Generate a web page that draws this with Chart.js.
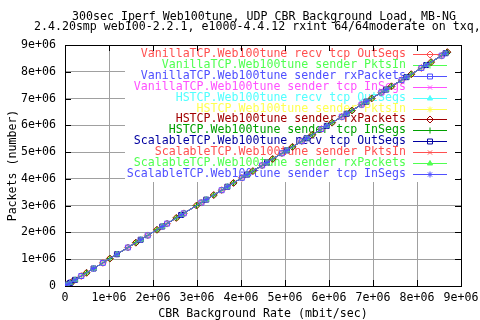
<!DOCTYPE html>
<html>
<head>
<meta charset="utf-8">
<script src="https://cdn.jsdelivr.net/npm/chart.js@4/dist/chart.umd.min.js"></script>
<style>
  html, body { margin: 0; padding: 0; background: #fff; }
  #wrap { width: 480px; height: 320px; }
</style>
</head>
<body>
<div id="wrap"><canvas id="chart" width="480" height="320"></canvas></div>
<script>
const titleLines = [
  '300sec Iperf Web100tune, UDP CBR Background Load, MB-NG',
  '2.4.20smp web100-2.2.1, e1000-4.4.12 rxint 64/64moderate on txq,',
];
const xTitle = 'CBR Background Rate (mbit/sec)';
const yTitle = 'Packets (number)';
const xTickLabels = ['0', '1e+06', '2e+06', '3e+06', '4e+06', '5e+06', '6e+06', '7e+06', '8e+06', '9e+06'];
const yTickLabels = ['0', '1e+06', '2e+06', '3e+06', '4e+06', '5e+06', '6e+06', '7e+06', '8e+06', '9e+06'];

// background rate / packet counts per TCP stack
const vanillaRate = [15000, 40000, 60000, 130000, 370000, 860000, 1430000, 1880000, 2320000, 2700000, 3100000, 3560000, 4020000, 4480000, 4930000, 5380000, 5830000, 6290000, 6740000, 7190000, 7650000, 8100000, 8560000];
const vanillaPkts = [15000, 41000, 61000, 131000, 372000, 864000, 1437000, 1889000, 2331000, 2713000, 3115000, 3577000, 4040000, 4502000, 4955000, 5407000, 5859000, 6321000, 6774000, 7226000, 7688000, 8140000, 8602000];
const hstcpRate = [30000, 90000, 180000, 490000, 1020000, 1610000, 2090000, 2530000, 2990000, 3380000, 3830000, 4270000, 4720000, 5170000, 5620000, 6070000, 6520000, 6970000, 7420000, 7870000, 8320000, 8690000];
const hstcpPkts = [30000, 90000, 181000, 492000, 1025000, 1618000, 2100000, 2543000, 3005000, 3397000, 3849000, 4291000, 4744000, 5196000, 5648000, 6100000, 6553000, 7005000, 7457000, 7909000, 8362000, 8733000];
const scalableRate = [10000, 45000, 110000, 230000, 650000, 1180000, 1720000, 2210000, 2640000, 3210000, 3690000, 4140000, 4590000, 5040000, 5490000, 5950000, 6400000, 6850000, 7300000, 7760000, 8210000, 8650000];
const scalablePkts = [10000, 45000, 111000, 231000, 653000, 1186000, 1729000, 2221000, 2653000, 3226000, 3708000, 4161000, 4613000, 5065000, 5517000, 5980000, 6432000, 6884000, 7336000, 7799000, 8251000, 8693000];

const seriesNames = [
  'VanillaTCP.Web100tune recv tcp OutSegs',
  'VanillaTCP.Web100tune sender PktsIn',
  'VanillaTCP.Web100tune sender rxPackets',
  'VanillaTCP.Web100tune sender tcp InSegs',
  'HSTCP.Web100tune recv tcp OutSegs',
  'HSTCP.Web100tune sender PktsIn',
  'HSTCP.Web100tune sender rxPackets',
  'HSTCP.Web100tune sender tcp InSegs',
  'ScalableTCP.Web100tune recv tcp OutSegs',
  'ScalableTCP.Web100tune sender PktsIn',
  'ScalableTCP.Web100tune sender rxPackets',
  'ScalableTCP.Web100tune sender tcp InSegs',
];
const seriesX = [vanillaRate, vanillaRate, vanillaRate, vanillaRate, hstcpRate, hstcpRate, hstcpRate, hstcpRate, scalableRate, scalableRate, scalableRate, scalableRate];
const seriesY = [vanillaPkts, vanillaPkts, vanillaPkts, vanillaPkts, hstcpPkts, hstcpPkts, hstcpPkts, hstcpPkts, scalablePkts, scalablePkts, scalablePkts, scalablePkts];

const colors = ['#ff5050', '#50ff50', '#5050ff', '#ff50ff', '#50ffff', '#ffff50', '#a00000', '#00a000', '#0000a0', '#ff5050', '#50ff50', '#5050ff'];
const markers = ['rectRot', 'cross', 'rect', 'crossRot', 'triangle', 'star', 'rectRot', 'cross', 'rect', 'crossRot', 'triangle', 'star'];

const FONT = '11.6px "DejaVu Sans Mono"';

function markerOpts(i) {
  const st = markers[i];
  return {
    pointStyle: st,
    radius: st === 'rect' || st === 'rectRot' ? 3.5 : 3,
    borderWidth: 1,
    rotation: 0,
  };
}

function drawMarker(ctx, i, x, y) {
  const o = markerOpts(i);
  ctx.save();
  ctx.strokeStyle = colors[i];
  ctx.fillStyle = markers[i] === 'triangle' ? colors[i] : 'rgba(0,0,0,0)';
  ctx.lineWidth = 1;
  Chart.helpers.drawPoint(ctx, o, x, y);
  ctx.restore();
}

const frame = {
  id: 'gnuplotFrame',
  beforeDatasetsDraw(chart) {
    const { ctx, chartArea: a, scales } = chart;
    ctx.save();
    // opaque key box
    ctx.fillStyle = '#fff';
    ctx.fillRect(125, a.top + 1, a.right - 126, 181 - a.top);

    // key entries
    ctx.font = FONT;
    ctx.textBaseline = 'middle';
    ctx.textAlign = 'right';
    seriesNames.forEach((name, i) => {
      const y = 54 + i * 10.9;
      ctx.fillStyle = colors[i];
      ctx.fillText(name, 406, y);
      ctx.strokeStyle = colors[i];
      ctx.lineWidth = 1;
      ctx.beginPath();
      ctx.moveTo(413, Math.round(y) + 0.5);
      ctx.lineTo(447, Math.round(y) + 0.5);
      ctx.stroke();
      drawMarker(ctx, i, 430, Math.round(y) + 0.5);
    });

    // border with inward ticks on all sides
    ctx.strokeStyle = '#000';
    ctx.lineWidth = 1;
    ctx.strokeRect(Math.round(a.left) + 0.5, Math.round(a.top) + 0.5, Math.round(a.right - a.left), Math.round(a.bottom - a.top));
    ctx.beginPath();
    scales.x.ticks.forEach((t) => {
      const px = Math.round(scales.x.getPixelForValue(t.value)) + 0.5;
      ctx.moveTo(px, a.bottom); ctx.lineTo(px, a.bottom - 6);
      ctx.moveTo(px, a.top); ctx.lineTo(px, a.top + 6);
    });
    scales.y.ticks.forEach((t) => {
      const py = Math.round(scales.y.getPixelForValue(t.value)) + 0.5;
      ctx.moveTo(a.left, py); ctx.lineTo(a.left + 6, py);
      ctx.moveTo(a.right, py); ctx.lineTo(a.right - 6, py);
    });
    ctx.stroke();

    // titles
    ctx.fillStyle = '#000';
    ctx.textAlign = 'center';
    ctx.textBaseline = 'alphabetic';
    const cx = (a.left + a.right) / 2;
    ctx.fillText(titleLines[0], cx + 1, 19.5);
    ctx.textAlign = 'left';
    ctx.fillText(titleLines[1], 34, 30);
    ctx.textAlign = 'center';
    ctx.fillText(xTitle, cx, 317);
    ctx.translate(16, (a.top + a.bottom) / 2);
    ctx.rotate(-Math.PI / 2);
    ctx.fillText(yTitle, 0, 0);
    ctx.restore();
  },
};

new Chart(document.getElementById('chart'), {
  type: 'line',
  data: {
    datasets: seriesNames.map((name, i) => ({
      label: name,
      data: seriesX[i].map((x, j) => ({ x, y: seriesY[i][j] })),
      order: seriesNames.length - i, // later series on top, as gnuplot does
      borderColor: colors[i],
      backgroundColor: markers[i] === 'triangle' ? colors[i] : 'rgba(0,0,0,0)',
      borderWidth: 1,
      pointStyle: markers[i],
      pointRadius: markerOpts(i).radius,
      pointBorderWidth: 1,
      pointBorderColor: colors[i],
      pointBackgroundColor: markers[i] === 'triangle' ? colors[i] : 'rgba(0,0,0,0)',
      tension: 0,
      fill: false,
    })),
  },
  options: {
    responsive: false,
    animation: false,
    layout: { padding: { left: 0, right: 19, top: 45, bottom: 0 } },
    plugins: {
      legend: { display: false },
      title: { display: false },
      tooltip: { enabled: false },
    },
    scales: {
      x: {
        type: 'linear',
        min: 0,
        max: 9000000,
        ticks: {
          stepSize: 1000000,
          color: '#000',
          font: { family: 'DejaVu Sans Mono', size: 11.6 },
          padding: 5,
          maxRotation: 0,
          autoSkip: false,
          callback: (v, i) => xTickLabels[i],
        },
        grid: { color: '#a0a0a0', drawTicks: false },
        border: { display: false },
        afterFit: (s) => { s.height = 34; s.paddingLeft = 0; s.paddingRight = 0; },
      },
      y: {
        type: 'linear',
        min: 0,
        max: 9000000,
        ticks: {
          stepSize: 1000000,
          color: '#000',
          font: { family: 'DejaVu Sans Mono', size: 11.6 },
          padding: 9,
          autoSkip: false,
          callback: (v, i) => yTickLabels[i],
        },
        grid: { color: '#a0a0a0', drawTicks: false },
        border: { display: false },
        afterFit: (s) => { s.width = 65; s.paddingTop = 0; s.paddingBottom = 0; },
      },
    },
  },
  plugins: [frame],
});
</script>
</body>
</html>
